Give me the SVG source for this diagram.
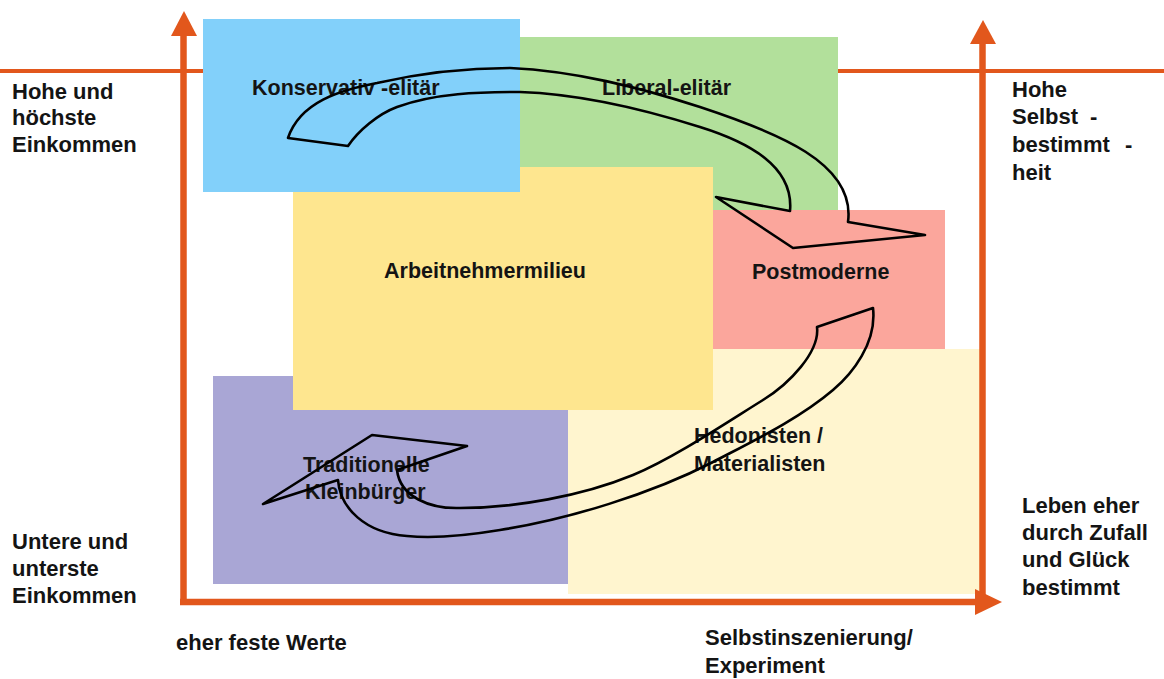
<svg xmlns="http://www.w3.org/2000/svg" width="1164" height="679" viewBox="0 0 1164 679">
  <style>
    .lbl { font-family: "Liberation Sans", Arial, sans-serif; font-weight: bold; font-size: 22px; fill: #141414; }
    .node { font-family: "Liberation Sans", Arial, sans-serif; font-weight: bold; font-size: 21.5px; fill: #141414; }
    .axis { fill: none; stroke: #E2571C; }
    .head { fill: #E2571C; stroke: none; }
    .flow { fill: none; stroke: #000; stroke-width: 2.6; stroke-linejoin: round; }
  </style>
  <rect width="1164" height="679" fill="#ffffff"/>

  <!-- upper income boundary line (runs behind the milieu boxes) -->
  <line class="axis" x1="0" y1="71" x2="1164" y2="71" stroke-width="4"/>

  <!-- milieu boxes -->
  <g id="liberal-elitaer">
    <rect x="520" y="37" width="318" height="174" fill="#B2E09B"/>
    <text class="node" x="602" y="95">Liberal-elitär</text>
  </g>
  <g id="hedonisten">
    <rect x="568" y="349" width="416" height="245" fill="#FFF5CF"/>
    <text class="node" x="694" y="443">Hedonisten /</text>
    <text class="node" x="694" y="471">Materialisten</text>
  </g>
  <g id="traditionelle">
    <rect x="213" y="376" width="355" height="208" fill="#A9A6D5"/>
    <text class="node" x="303" y="472">Traditionelle</text>
    <text class="node" x="305" y="499">Kleinbürger</text>
  </g>
  <g id="arbeitnehmermilieu">
    <rect x="293" y="167" width="420" height="243" fill="#FEE68F"/>
    <text class="node" x="485" y="278" text-anchor="middle">Arbeitnehmermilieu</text>
  </g>
  <g id="konservativ-elitaer">
    <rect x="203" y="19" width="317" height="173" fill="#82D0FA"/>
    <text class="node" x="252" y="95">Konservativ -elitär</text>
  </g>
  <g id="postmoderne">
    <rect x="713" y="210" width="232" height="139" fill="#FBA69C"/>
    <text class="node" x="752" y="279">Postmoderne</text>
  </g>

  <!-- axes -->
  <g id="axes">
    <line class="axis" x1="183.5" y1="33" x2="183.5" y2="605" stroke-width="6.5"/>
    <polygon class="head" points="184,11 171,36 197,36"/>
    <line class="axis" x1="982.5" y1="41" x2="982.5" y2="605" stroke-width="6.5"/>
    <polygon class="head" points="983,20 970,44 996,44"/>
    <line class="axis" x1="180" y1="602" x2="978" y2="602" stroke-width="6.5"/>
    <polygon class="head" points="1002,602 975,589 975,615"/>
  </g>

  <!-- movement arrows between milieus -->
  <g id="connectors">
    <path class="flow" d="M 288,138
      C 300,102 340,90 377,83
      C 421,73 465,68 510,68
      C 575,71 638,87 700,107
      C 776,132 856,163 848,222
      L 925,235 L 793,248 L 716,197 L 790,211
      C 794,166 748,142 700,127
      C 643,109 580,94 520,92
      C 480,92 435,93 397,107
      C 378,114 358,131 348,146
      Z"/>
    <path class="flow" d="M 817,327 L 873,308
      C 877,343 852,374 833,390
      C 799,419 753,441 713,462
      C 651,494 569,519 500,530
      C 470,535 437,539 407,536
      C 365,533 340,508 338,480
      L 263,504 L 372,435 L 467,446 L 397,470
      C 400,497 430,509 460,508
      C 515,508 582,496 633,475
      C 674,458 729,421 763,400
      C 789,384 820,352 817,327
      Z"/>
  </g>

  <!-- axis captions -->
  <g id="captions">
    <text class="lbl" x="12" y="99">Hohe und</text>
    <text class="lbl" x="12" y="125">höchste</text>
    <text class="lbl" x="12" y="152">Einkommen</text>

    <text class="lbl" x="12" y="549">Untere und</text>
    <text class="lbl" x="12" y="576">unterste</text>
    <text class="lbl" x="12" y="603">Einkommen</text>

    <text class="lbl" x="1012" y="97">Hohe</text>
    <text class="lbl" x="1012" y="124">Selbst<tspan x="1090">-</tspan></text>
    <text class="lbl" x="1012" y="152">bestimmt<tspan x="1125">-</tspan></text>
    <text class="lbl" x="1012" y="180">heit</text>

    <text class="lbl" x="1022" y="513">Leben eher</text>
    <text class="lbl" x="1022" y="540">durch Zufall</text>
    <text class="lbl" x="1022" y="567">und Glück</text>
    <text class="lbl" x="1022" y="595">bestimmt</text>

    <text class="lbl" x="176" y="650">eher feste Werte</text>
    <text class="lbl" x="705" y="645">Selbstinszenierung/</text>
    <text class="lbl" x="705" y="673">Experiment</text>
  </g>
</svg>
